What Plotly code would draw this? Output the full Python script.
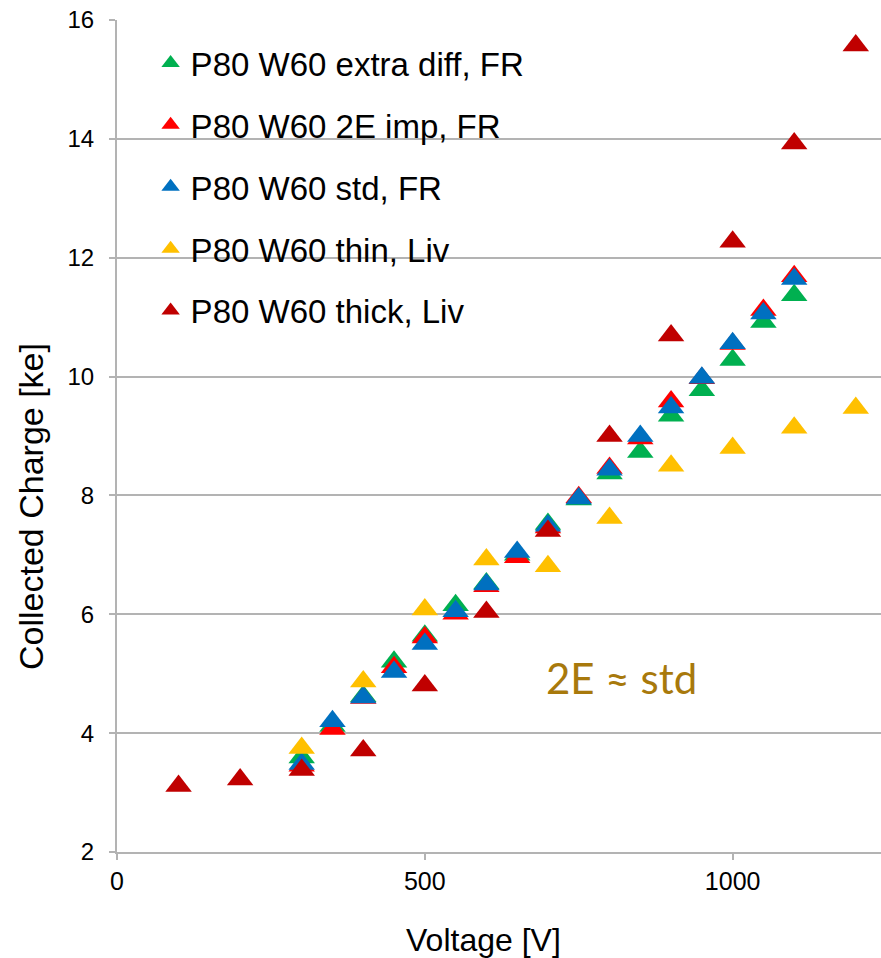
import plotly.graph_objects as go

# Bias voltage [V]
v_fr = [300, 350, 400, 450, 500, 550, 600, 650, 700, 750, 800, 850, 900, 950, 1000, 1050, 1100]
v_liv_thin = [300, 400, 500, 600, 700, 800, 900, 1000, 1100, 1200]
v_liv_thick = [100, 200, 300, 400, 500, 600, 700, 800, 900, 1000, 1100, 1200]

# Collected charge [ke]
q_extra_diff = [3.59, 4.12, 4.62, 5.20, 5.64, 6.15, 6.52, 7.00, 7.52, 7.93, 8.37, 8.73, 9.34, 9.77, 10.28, 10.92, 11.37]
q_2e_imp = [3.45, 4.07, 4.59, 5.11, 5.61, 6.01, 6.47, 6.96, 7.46, 7.97, 8.46, 8.96, 9.58, 9.97, 10.55, 11.12, 11.69]
q_std = [3.48, 4.20, 4.60, 5.03, 5.50, 6.05, 6.50, 7.05, 7.49, 7.95, 8.43, 9.00, 9.48, 9.98, 10.56, 11.06, 11.64]
q_thin = [3.75, 4.87, 6.08, 6.92, 6.81, 7.62, 8.50, 8.80, 9.14, 9.47]
q_thick = [3.11, 3.22, 3.38, 3.71, 4.80, 6.04, 7.40, 9.00, 10.69, 12.27, 13.92, 15.57]

series = [
    ("P80 W60 extra diff, FR", v_fr, q_extra_diff, "#00B050"),
    ("P80 W60 2E imp, FR", v_fr, q_2e_imp, "#FF0000"),
    ("P80 W60 std, FR", v_fr, q_std, "#0070C0"),
    ("P80 W60 thin, Liv", v_liv_thin, q_thin, "#FFC000"),
    ("P80 W60 thick, Liv", v_liv_thick, q_thick, "#C00000"),
]

x_ticks = [0, 500, 1000]
y_ticks = [2, 4, 6, 8, 10, 12, 14, 16]

GRID = "#B3B3B3"
FONT = "Liberation Sans, Arial, sans-serif"

# plot area in pixels: left 117, top 20, bottom 852, width 764, height 832
PL, PT, PB, PW, PH = 117, 20, 852, 764, 832


def px_to_paper_x(px):
    return (px - PL) / PW


def px_to_paper_y(py):
    return (PB - py) / PH


fig = go.Figure()
for i, (name, xs, ys, color) in enumerate(series):
    fig.add_trace(go.Scatter(
        x=xs, y=ys, name=name, mode="markers",
        legendgroup=f"g{i}",
        marker=dict(symbol="triangle-up", size=23, color=color,
                    line=dict(width=0)),
    ))

fig.update_layout(
    width=881, height=958,
    margin=dict(l=PL, r=0, t=PT, b=958 - PB),
    paper_bgcolor="white", plot_bgcolor="white",
    font=dict(family=FONT, color="#000000", size=24),
    showlegend=True,
    legend=dict(
        x=0.044, y=px_to_paper_y(35), xanchor="left", yanchor="top",
        bgcolor="rgba(255,255,255,0)",
        font=dict(size=33, family=FONT, color="#000000"),
        tracegroupgap=16,
    ),
    xaxis=dict(
        range=[0, 1241], tickvals=x_ticks, ticktext=[str(t) for t in x_ticks],
        showgrid=False, zeroline=False,
        showline=True, linecolor=GRID, linewidth=2,
        ticks="outside", ticklen=6, tickcolor=GRID, tickwidth=2,
        tickfont=dict(size=25),
    ),
    yaxis=dict(
        range=[2, 16], tickvals=y_ticks, ticktext=[str(t) for t in y_ticks],
        showgrid=True, gridcolor=GRID, gridwidth=2, zeroline=False,
        showline=True, linecolor=GRID, linewidth=2,
        ticks="outside", ticklen=6, tickcolor=GRID, tickwidth=2,
        tickfont=dict(size=24), ticklabelstandoff=10,
    ),
    annotations=[
        dict(text="Voltage [V]", xref="paper", yref="paper",
             x=px_to_paper_x(483), y=px_to_paper_y(940),
             xanchor="center", yanchor="middle", showarrow=False,
             font=dict(size=32, family=FONT)),
        dict(text="Collected Charge [ke]", xref="paper", yref="paper",
             x=px_to_paper_x(31), y=px_to_paper_y(507), textangle=-90,
             xanchor="center", yanchor="middle", showarrow=False,
             font=dict(size=34, family=FONT)),
        dict(text="2E ≈ std", x=819, y=4.92, xref="x", yref="y",
             showarrow=False, xanchor="center", yanchor="middle",
             font=dict(size=42, family="Lato, sans-serif", color="#A8790C")),
    ],
)

fig.write_html("out.html")
